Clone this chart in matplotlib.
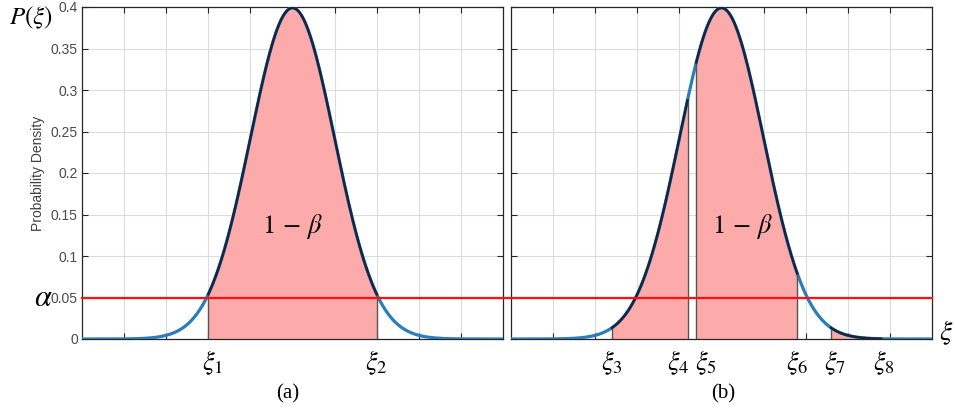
import numpy as np
import matplotlib
matplotlib.use("Agg")
import matplotlib.pyplot as plt
from matplotlib.transforms import blended_transform_factory

plt.rcParams['mathtext.fontset'] = 'stix'
plt.rcParams['font.family'] = ['Liberation Sans', 'DejaVu Sans']

# Distribution parameters (standard normal)
mu = 0.0
sigma = 1.0
x_min, x_max = -5.0, 5.0
alpha_level = 0.05

# Panel (a): one shaded interval
bounds_a = [(-2.0, 2.0)]
labels_a = [r'$\xi_1$', r'$\xi_2$']
label_pos_a = [-1.9, 2.0]

# Panel (b): three shaded intervals
bounds_b = [(-2.6, -0.8), (-0.6, 1.8), (2.6, 3.8)]
labels_b = [r'$\xi_3$', r'$\xi_4$', r'$\xi_5$', r'$\xi_6$', r'$\xi_7$', r'$\xi_8$']
label_pos_b = [-2.6, -0.75, -0.62, 1.8, 2.7, 3.85]
label_ha_b = ['center', 'right', 'left', 'center', 'center', 'center']

yticks = [0, 0.05, 0.1, 0.15, 0.2, 0.25, 0.3, 0.35, 0.4]
ytick_labels = ['0', '0.05', '0.1', '0.15', '0.2', '0.25', '0.3', '0.35', '0.4']

xs = np.linspace(x_min, x_max, 1001)
pdf = np.exp(-0.5 * ((xs - mu) / sigma) ** 2) / (sigma * np.sqrt(2 * np.pi))

blue = '#2a7dbb'
navy = '#17233f'
fill_c = '#fdaaaa'

W, H = 955, 408
fig = plt.figure(figsize=(W / 100, H / 100), dpi=100)
ax1 = fig.add_axes([82 / W, 1 - 339 / H, 421 / W, 332 / H])
ax2 = fig.add_axes([511 / W, 1 - 339 / H, 421 / W, 332 / H])
ax1.set_zorder(3)


def style(ax, show_labels):
    ax.set_xlim(x_min, x_max)
    ax.set_ylim(0, 0.4)
    ax.set_xticks(np.arange(-4, 5, 1))
    ax.set_xticklabels([])
    ax.set_yticks(yticks)
    if show_labels:
        ax.set_yticklabels(ytick_labels, fontsize=10, color='#4a4a4a')
    else:
        ax.set_yticklabels([])
    ax.tick_params(direction='in', top=True, right=True, length=4,
                   width=0.8, color='#262626', pad=3)
    ax.grid(True, color='#dcdcdc', linewidth=0.8)
    ax.set_axisbelow(True)
    for s in ax.spines.values():
        s.set_color('#262626')
        s.set_linewidth(0.9)


def draw(ax, bounds):
    ax.plot(xs, pdf, color=blue, lw=2.3, zorder=3, solid_capstyle='butt')
    for lo, hi in bounds:
        m = (xs >= lo) & (xs <= hi)
        ax.fill_between(xs[m], 0, pdf[m], color=fill_c, lw=0, zorder=2)
        ax.plot(xs[m], pdf[m], color=navy, lw=1.8, zorder=4)
        for b in (lo, hi):
            yb = np.exp(-0.5 * ((b - mu) / sigma) ** 2) / (sigma * np.sqrt(2 * np.pi))
            ax.plot([b, b], [0, yb], color='#555555', lw=1.0, zorder=3)


style(ax1, True)
style(ax2, False)
draw(ax1, bounds_a)
draw(ax2, bounds_b)

ax1.set_ylabel('Probability Density', fontsize=10, color='#404040')
ax1.yaxis.set_label_coords((45 - 82) / 421, 0.5)

# alpha line spanning both panels
ax1.axhline(alpha_level, xmin=0, xmax=(932 - 82) / 421, color='#ff1010',
            lw=1.6, clip_on=False, zorder=5)

t1 = blended_transform_factory(ax1.transData, ax1.transAxes)
for lab, p in zip(labels_a, label_pos_a):
    ax1.text(p, -0.07, lab, transform=t1, ha='center', va='center', fontsize=19)
t2 = blended_transform_factory(ax2.transData, ax2.transAxes)
for lab, p, ha in zip(labels_b, label_pos_b, label_ha_b):
    ax2.text(p, -0.07, lab, transform=t2, ha=ha, va='center', fontsize=19)

beta_txt = r'$1\,-\,\beta$'
ax1.text(0, 0.135, beta_txt, ha='center', va='center', fontsize=19)
ax2.text(0.5, 0.135, beta_txt, ha='center', va='center', fontsize=19)

fig.text(288 / W, 1 - 394 / H, '(a)', ha='center', va='center', fontsize=15,
         family='Liberation Serif')
fig.text(723 / W, 1 - 394 / H, '(b)', ha='center', va='center', fontsize=15,
         family='Liberation Serif')

fig.text(31 / W, 1 - 18 / H, r'$P(\xi)$', ha='center', va='center', fontsize=18)
fig.text(43 / W, 1 - 298 / H, r'$\alpha$', ha='center', va='center', fontsize=22)
fig.text(946 / W, 1 - 333 / H, r'$\xi$', ha='center', va='center', fontsize=20)

fig.savefig('out.png', dpi=100)
